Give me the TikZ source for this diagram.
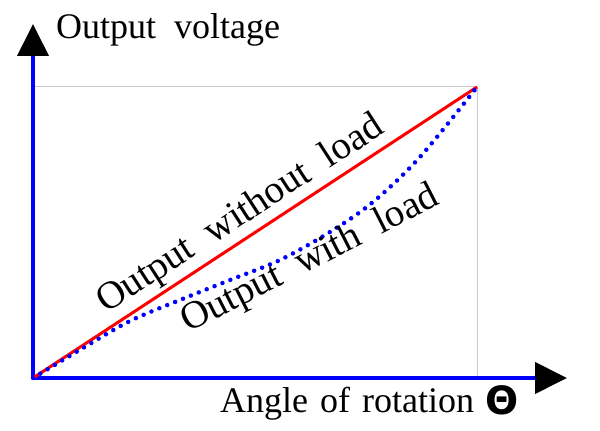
\documentclass[tikz,border=0pt]{standalone}
\usepackage{fontspec}
\setmainfont{Liberation Serif}
\newfontfamily\thetafont{DejaVu Sans}
\usetikzlibrary{arrows.meta}
\definecolor{axisblue}{RGB}{0,0,255}
\definecolor{curvered}{RGB}{255,0,0}
\definecolor{gridgray}{RGB}{200,200,200}
\tikzset{
  axis/.style={draw=axisblue, line width=4pt,
    -{Triangle[length=32pt,width=31pt,color=black]}},
  guide/.style={draw=gridgray, line width=1pt},
  noload/.style={draw=curvered, line width=3pt},
  withload/.style={draw=axisblue, line width=4.5pt, line cap=round,
    dash pattern=on 0pt off 8.5pt},
  lbl/.style={inner sep=0pt, font=\fontsize{36}{40}\selectfont},
  rlbl/.style={inner sep=0pt, font=\fontsize{39}{44}\selectfont, anchor=base west},
}
\begin{document}
\begin{tikzpicture}[x=1pt,y=1pt]
\useasboundingbox (0,0) rectangle (600,431);
\coordinate (O) at (33,53);
\coordinate (ytip) at (33,407);
\coordinate (xtip) at (567,53);
\coordinate (E) at (477,344);
\coordinate (gl) at (33,344);
\coordinate (gb) at (477,53);
\draw[guide] (gl) -- (E) -- (gb);
\draw[axis] (O) -- (ytip);
\draw[axis] (O) -- (xtip);
\draw[noload] (O) -- (E);
\draw[withload] plot[smooth, tension=0.55] coordinates {(33,53) (53,65) (83,83) (130,110) (180,131) (230,151) (280,171) (330,199) (373,229) (420,274) (477,344)};
\node[lbl, anchor=base west] (ylab) at (56,392) {Output\ \ voltage};
\node[lbl, anchor=base west] (xlab) at (220,18) {Angle\hspace{12pt}of\hspace{12pt}rotation};
\node[inner sep=0pt, font=\thetafont\bfseries\fontsize{39}{44}\selectfont] (theta) at (502,31) {Θ};
\node[rlbl, rotate=33] (l1) at (106,117) {Output\ \ without\ \ load};
\node[rlbl, rotate=27] (l2) at (188,98) {Output\ \ with\ \ load};
\end{tikzpicture}
\end{document}
